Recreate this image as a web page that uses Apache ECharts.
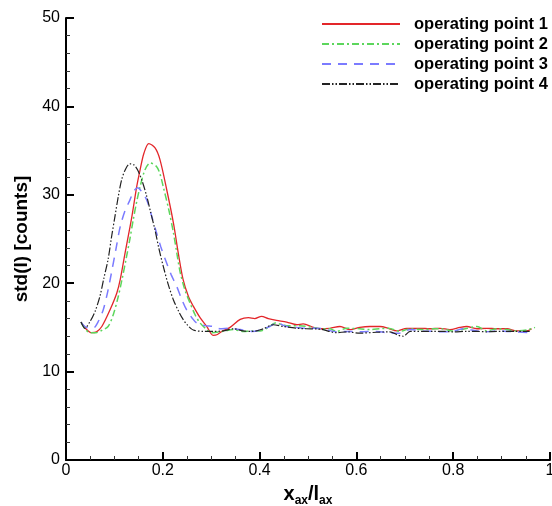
<!DOCTYPE html>
<html>
<head>
<meta charset="utf-8">
<script src="https://cdn.jsdelivr.net/npm/echarts@6/dist/echarts.min.js"></script>
<style>
html,body{margin:0;padding:0;background:#fff;}
#chart{width:552px;height:506px;}
</style>
</head>
<body>
<div id="chart"></div>
<script>
const seriesNames = ['operating point 1', 'operating point 2', 'operating point 3', 'operating point 4'];

const op1X = [0.031,0.042,0.053,0.063,0.074,0.091,0.105,0.112,0.122,0.136,0.146,0.153,0.161,0.171,0.184,0.194,0.208,0.222,0.232,0.242,0.253,0.263,0.277,0.291,0.304,0.313,0.322,0.339,0.360,0.377,0.390,0.404,0.418,0.435,0.456,0.477,0.490,0.511,0.525,0.545,0.566,0.587,0.607,0.628,0.649,0.666,0.683,0.704,0.731,0.752,0.773,0.793,0.814,0.828,0.849,0.869,0.890,0.911,0.931,0.952,0.962];
const op1Y = [15.6,14.8,14.4,14.5,15.1,17.0,18.9,20.4,23.4,27.5,30.9,32.8,34.7,35.8,35.3,34.0,30.6,26.8,23.4,20.4,18.5,17.4,16.1,15.1,14.1,14.2,14.55,15.0,15.9,16.1,16.0,16.25,16.0,15.8,15.6,15.3,15.4,15.0,14.85,14.9,15.1,14.75,15.0,15.1,15.1,14.9,14.6,14.9,14.9,14.85,14.9,14.75,15.0,15.1,14.85,14.9,14.85,14.85,14.6,14.6,14.85];

const op2X = [0.031,0.040,0.050,0.062,0.075,0.087,0.098,0.108,0.116,0.124,0.132,0.139,0.146,0.153,0.163,0.174,0.187,0.194,0.201,0.212,0.222,0.229,0.236,0.246,0.256,0.267,0.277,0.291,0.301,0.325,0.346,0.366,0.384,0.401,0.418,0.432,0.456,0.483,0.511,0.525,0.545,0.559,0.580,0.607,0.628,0.649,0.666,0.690,0.711,0.738,0.759,0.776,0.797,0.818,0.849,0.869,0.890,0.911,0.931,0.955,0.969];
const op2Y = [15.6,14.8,14.4,14.4,14.7,15.1,16.5,18.5,20.5,22.7,25.0,27.2,29.2,30.9,32.8,33.6,33.2,32.4,30.9,28.4,25.7,23.4,21.2,19.2,17.8,16.4,15.5,14.75,14.4,14.55,14.75,14.55,14.6,14.6,15.0,15.5,15.2,15.2,15.0,14.85,14.85,14.55,14.9,14.85,14.75,14.85,14.9,14.55,14.85,14.75,14.85,14.85,14.6,14.75,15.1,14.6,14.85,14.75,14.6,14.75,15.0];

const op3X = [0.031,0.042,0.056,0.066,0.077,0.086,0.094,0.103,0.112,0.122,0.132,0.140,0.148,0.157,0.167,0.177,0.187,0.196,0.205,0.217,0.229,0.239,0.249,0.260,0.270,0.287,0.304,0.318,0.339,0.360,0.384,0.404,0.421,0.435,0.456,0.477,0.494,0.511,0.530,0.559,0.580,0.607,0.642,0.663,0.690,0.711,0.738,0.759,0.780,0.800,0.821,0.849,0.869,0.890,0.911,0.931,0.959];
const op3Y = [15.6,15.0,14.9,15.6,17.0,19.0,21.2,23.8,26.4,28.2,29.4,30.4,30.8,30.3,29.4,27.6,25.7,24.1,22.7,21.0,19.6,18.2,17.0,16.1,15.5,15.2,15.1,14.85,14.9,14.75,14.55,14.75,15.1,15.5,15.1,15.0,14.9,14.9,14.85,14.5,14.55,14.5,14.55,14.4,14.35,14.75,14.6,14.55,14.5,14.55,14.85,14.6,14.5,14.6,14.55,14.5,14.4];

const op4X = [0.031,0.039,0.050,0.060,0.070,0.078,0.087,0.094,0.101,0.108,0.115,0.123,0.132,0.140,0.148,0.157,0.167,0.175,0.184,0.192,0.201,0.211,0.222,0.232,0.242,0.252,0.263,0.284,0.304,0.325,0.346,0.366,0.387,0.408,0.428,0.449,0.477,0.497,0.525,0.559,0.580,0.607,0.642,0.669,0.687,0.697,0.711,0.738,0.759,0.780,0.800,0.828,0.849,0.869,0.890,0.911,0.931,0.958];
const op4Y = [15.6,14.9,15.7,16.8,18.5,20.5,22.7,25.2,27.5,29.8,31.7,32.9,33.5,33.4,32.8,31.6,29.8,28.0,26.0,23.9,21.9,19.9,18.1,16.9,15.9,15.2,14.7,14.55,14.55,14.6,14.85,14.6,14.55,14.85,15.3,15.1,14.9,14.85,14.8,14.4,14.5,14.35,14.45,14.5,14.1,14.0,14.55,14.55,14.55,14.55,14.5,14.55,14.55,14.5,14.55,14.55,14.55,14.55];

const xTicks = [0, 0.2, 0.4, 0.6, 0.8, 1];
const yTicks = [0, 10, 20, 30, 40, 50];

function zip(xs, ys) { return xs.map((x, i) => [x, ys[i]]); }

const FONT = "'Liberation Sans', Arial, Helvetica, sans-serif";
const chart = echarts.init(document.getElementById('chart'), null, {renderer: 'canvas'});

const axisCommon = {
  type: 'value',
  splitLine: {show: false},
  axisLine: {show: true, lineStyle: {color: '#000', width: 2}},
  axisTick: {show: true, inside: true, length: 8, lineStyle: {color: '#000', width: 2}},
  minorTick: {show: true, length: 4, lineStyle: {color: '#333', width: 1}},
  axisLabel: {color: '#000', fontSize: 16, fontFamily: FONT}
};

const option = {
  animation: false,
  backgroundColor: '#fff',
  grid: {left: 66, right: 2, top: 18, bottom: 46, containLabel: false, outerBoundsMode: 'none'},
  legend: {
    orient: 'vertical',
    left: 321,
    top: 15.5,
    padding: 0,
    itemWidth: 78,
    itemHeight: 14,
    itemGap: 3,
    data: seriesNames,
    itemStyle: {opacity: 0},
    textStyle: {fontSize: 16.5, fontWeight: 'bold', color: '#000', fontFamily: FONT, padding: [0, 0, 0, 9]}
  },
  xAxis: Object.assign({}, axisCommon, {
    min: xTicks[0], max: xTicks[xTicks.length - 1], interval: 0.2,
    minorTick: Object.assign({}, axisCommon.minorTick, {splitNumber: 4}),
    axisLabel: Object.assign({}, axisCommon.axisLabel, {margin: 3, showMaxLabel: true}),
    name: '{b|x}{s|ax}{b|/l}{s|ax}',
    nameLocation: 'middle',
    nameGap: 17,
    nameTextStyle: {
      rich: {
        b: {fontSize: 20, fontWeight: 'bold', fontFamily: FONT, color: '#000', lineHeight: 22, verticalAlign: 'top'},
        s: {fontSize: 12, fontWeight: 'bold', fontFamily: FONT, color: '#000', lineHeight: 14, padding: [11, 0, 0, 0], verticalAlign: 'bottom'}
      }
    }
  }),
  yAxis: Object.assign({}, axisCommon, {
    min: yTicks[0], max: yTicks[yTicks.length - 1], interval: 10,
    minorTick: Object.assign({}, axisCommon.minorTick, {splitNumber: 5}),
    axisLabel: Object.assign({}, axisCommon.axisLabel, {margin: 6}),
    name: 'std(I) [counts]',
    nameLocation: 'middle',
    nameGap: 27,
    nameTextStyle: {fontSize: 19, fontWeight: 'bold', fontFamily: FONT, color: '#000'}
  }),
  series: [
    {name: seriesNames[0], type: 'line', data: zip(op1X, op1Y), symbol: 'none', smooth: 0.3,
     lineStyle: {color: '#e3262a', width: 1.3, type: 'solid'}, itemStyle: {color: '#e3262a'}},
    {name: seriesNames[1], type: 'line', data: zip(op2X, op2Y), symbol: 'none', smooth: 0.3,
     lineStyle: {color: '#5cd65c', width: 1.5, type: [7, 3, 2, 3]}, itemStyle: {color: '#5cd65c'}},
    {name: seriesNames[2], type: 'line', data: zip(op3X, op3Y), symbol: 'none', smooth: 0.3,
     lineStyle: {color: '#7b7bff', width: 1.5, type: [9, 7]}, itemStyle: {color: '#7b7bff'}},
    {name: seriesNames[3], type: 'line', data: zip(op4X, op4Y), symbol: 'none', smooth: 0.3,
     lineStyle: {color: '#222', width: 1.2, type: [8, 2, 1.5, 2, 1.5, 2]}, itemStyle: {color: '#222'}}
  ]
};
chart.setOption(option);
</script>
</body>
</html>
